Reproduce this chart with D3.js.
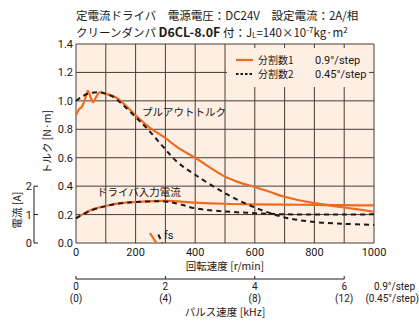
<!DOCTYPE html>
<html>
<meta charset="utf-8">
<style>
body { margin: 0; background: #fff; }
text { font-family: Roboto, "Liberation Sans", sans-serif; fill: #231815; }
.jp { font-family: "Noto Sans CJK JP", sans-serif; }
.grid line { stroke: #4a3c33; stroke-width: 1; }
</style>
<body>
<svg width="419" height="325"></svg>
<script src="https://d3js.org/d3.v7.min.js"></script>
<script>
// rotation speed [r/min] vs torque [N·m]
var pullout1 = [[0,0.90],[10,0.94],[20,0.96],[30,1.01],[40,1.07],[50,1.02],[58,0.99],[68,1.03],[80,1.06],[100,1.05],[137,1.02],[170,0.96],[204,0.89],[248,0.81],[292,0.75],[350,0.66],[400,0.60],[450,0.53],[500,0.467],[550,0.425],[600,0.394],[650,0.36],[700,0.325],[800,0.28],[900,0.25],[1000,0.22]];
var pullout2 = [[0,1.0],[20,1.03],[40,1.05],[74,1.06],[100,1.05],[124,1.03],[158,0.97],[204,0.878],[248,0.784],[292,0.678],[338,0.573],[400,0.48],[500,0.35],[600,0.25],[700,0.18],[800,0.148],[900,0.135],[1000,0.127]];
// driver input current [A]
var current1 = [[0,0.87],[50,1.16],[100,1.30],[150,1.40],[200,1.44],[300,1.48],[400,1.42],[500,1.38],[600,1.36],[700,1.35],[800,1.34],[900,1.33],[1000,1.32]];
var current2 = [[0,0.87],[50,1.14],[100,1.30],[150,1.40],[200,1.44],[300,1.46],[350,1.36],[400,1.22],[500,1.11],[600,1.05],[700,1.01],[800,1.0],[900,1.0],[1000,1.01]];
// start-up (fs) segments
var fs1 = [[248,0.07],[270,0]];
var fs2 = [[276,0.06],[290,0]];
var speedTicks = [0,200,400,600,800,1000];
var torqueTicks = [0,0.2,0.4,0.6,0.8,1.0,1.2,1.4];
var currentTicks = [0,1,2];
var pulseTicks = [0,2,4,6];
var pulseTicks2 = ["(0)","(4)","(8)","(12)"];

var svg = d3.select("svg");
var orange = "#f26a1f";
var L = 76, R = 374, T = 44, B = 243;

var x = d3.scaleLinear().domain([0,1000]).range([L,R]);
var y = d3.scaleLinear().domain([0,1.4]).range([B,T]);
var yc = d3.scaleLinear().domain([0,2]).range([B, y(0.4)]);
// 0.9°/step: 400 pulses/rev -> kHz
var xp = d3.scaleLinear().domain([0,1000*400/60/1000]).range([L,R]);

// title
var t1 = svg.append("text").attr("class","jp").attr("x",L).attr("y",20).attr("font-size",11.5);
t1.text("定電流ドライバ　電源電圧：DC24V　設定電流：2A/相");
var t2 = svg.append("text").attr("class","jp").attr("x",L).attr("y",37).attr("font-size",11.5);
t2.append("tspan").text("クリーンダンパ ");
t2.append("tspan").attr("font-weight","bold").attr("font-size",12.5).text("D6CL-8.0F");
t2.append("tspan").text(" 付：J");
t2.append("tspan").attr("font-size",8).attr("dy",1).text("L");
t2.append("tspan").attr("dy",-1).text("=140×10");
t2.append("tspan").attr("font-size",8).attr("dy",-4).text("-7");
t2.append("tspan").attr("dy",4).text("kg·m");
t2.append("tspan").attr("font-size",8).attr("dy",-4).text("2");

// plot background + grid
svg.append("rect").attr("x",L).attr("y",T).attr("width",R-L).attr("height",B-T).attr("fill","#fdefe4");
var grid = svg.append("g").attr("class","grid");
grid.selectAll(".v").data(d3.range(0,1001,100)).enter().append("line")
  .attr("x1",d=>x(d)).attr("x2",d=>x(d)).attr("y1",T).attr("y2",B);
grid.selectAll(".h").data(torqueTicks).enter().append("line")
  .attr("x1",L).attr("x2",R).attr("y1",d=>y(d)).attr("y2",d=>y(d));

// legend box masks grid
svg.append("rect").attr("x",227).attr("y",48).attr("width",142).attr("height",39).attr("fill","#fdefe4");

// axes labels
svg.selectAll(".yt").data(torqueTicks).enter().append("text")
  .attr("x",L-3).attr("y",d=>y(d)+4).attr("text-anchor","end").attr("font-size",11)
  .text(d=>d3.format(".1f")(d));
svg.selectAll(".xt").data(speedTicks).enter().append("text")
  .attr("x",d=>x(d)).attr("y",256).attr("text-anchor","middle").attr("font-size",11)
  .text(d=>d);
svg.append("text").attr("class","jp").attr("x",225).attr("y",270).attr("text-anchor","middle").attr("font-size",10.5).text("回転速度 [r/min]");
svg.append("text").attr("class","jp").attr("transform","translate(51,142) rotate(-90)").attr("text-anchor","middle").attr("font-size",10.5).text("トルク [N·m]");

// current axis
var cax = svg.append("g");
cax.append("line").attr("x1",34).attr("x2",34).attr("y1",yc(2)).attr("y2",yc(0)).attr("stroke","#231815");
cax.selectAll("line.t").data(currentTicks).enter().append("line")
  .attr("x1",34).attr("x2",38).attr("y1",d=>yc(d)).attr("y2",d=>yc(d)).attr("stroke","#231815");
cax.selectAll("text").data(currentTicks).enter().append("text")
  .attr("x",32).attr("y",d=>yc(d)+4).attr("text-anchor","end").attr("font-size",11).text(d=>d);
svg.append("text").attr("class","jp").attr("transform","translate(21,210) rotate(-90)").attr("text-anchor","middle").attr("font-size",10.5).text("電流 [A]");

// pulse axis
var py = 279;
svg.append("line").attr("x1",xp(0)).attr("x2",xp(6)).attr("y1",py).attr("y2",py).attr("stroke","#231815");
svg.selectAll(".pt").data(pulseTicks).enter().append("line")
  .attr("x1",d=>xp(d)).attr("x2",d=>xp(d)).attr("y1",py-3).attr("y2",py).attr("stroke","#231815");
svg.selectAll(".pl").data(pulseTicks).enter().append("text")
  .attr("x",d=>xp(d)).attr("y",290).attr("text-anchor","middle").attr("font-size",10).text(d=>d);
svg.selectAll(".pl2").data(pulseTicks2).enter().append("text")
  .attr("x",(d,i)=>xp(pulseTicks[i])).attr("y",302).attr("text-anchor","middle").attr("font-size",10).text(d=>d);
svg.append("text").attr("x",415).attr("y",290).attr("text-anchor","end").attr("font-size",10).text("0.9°/step");
svg.append("text").attr("x",419).attr("y",302).attr("text-anchor","end").attr("font-size",10).text("(0.45°/step)");
svg.append("text").attr("class","jp").attr("x",225).attr("y",316).attr("text-anchor","middle").attr("font-size",10.5).text("パルス速度 [kHz]");

// curves
var lineT = d3.line().x(d=>x(d[0])).y(d=>y(d[1])).curve(d3.curveCatmullRom);
var lineC = d3.line().x(d=>x(d[0])).y(d=>yc(d[1])).curve(d3.curveCatmullRom);
var lineS = d3.line().x(d=>x(d[0])).y(d=>y(d[1]));

function draw(path, color, dashed) {
  svg.append("path").attr("d",path).attr("fill","none").attr("stroke",color)
    .attr("stroke-width", dashed ? 2 : 2.2)
    .attr("stroke-dasharray", dashed ? "5,4" : null);
}
draw(lineC(current1), orange, false);
draw(lineT(pullout1), orange, false);
draw(lineC(current2), "#231815", true);
draw(lineT(pullout2), "#231815", true);
draw(lineS(fs1), orange, false);
draw(lineS(fs2), "#231815", true);

svg.append("text").attr("x",164).attr("y",239).attr("font-size",11).text("fs");
svg.append("text").attr("class","jp").attr("x",142).attr("y",116).attr("font-size",10.5).text("プルアウトトルク");
svg.append("text").attr("class","jp").attr("x",97).attr("y",196).attr("font-size",10.5).text("ドライバ入力電流");

// legend
var leg = svg.append("g");
leg.append("line").attr("x1",236).attr("x2",253).attr("y1",60).attr("y2",60).attr("stroke",orange).attr("stroke-width",2.2);
leg.append("line").attr("x1",236).attr("x2",253).attr("y1",74).attr("y2",74).attr("stroke","#231815").attr("stroke-width",2).attr("stroke-dasharray","2.5,2");
leg.append("text").attr("class","jp").attr("x",258).attr("y",64).attr("font-size",10).text("分割数1");
leg.append("text").attr("class","jp").attr("x",258).attr("y",78).attr("font-size",10).text("分割数2");
leg.append("text").attr("x",315).attr("y",64).attr("font-size",11).text("0.9°/step");
leg.append("text").attr("x",315).attr("y",78).attr("font-size",11).text("0.45°/step");
</script>
</body>
</html>
